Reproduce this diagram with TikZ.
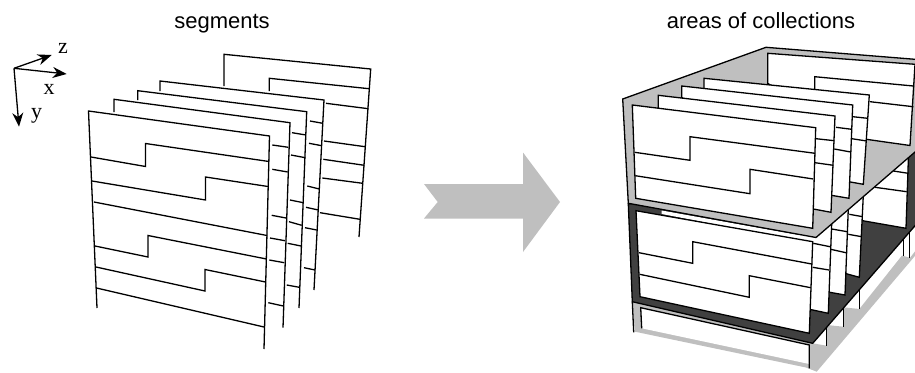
\documentclass[tikz,border=0pt]{standalone}
\usepackage{fontspec}
\setmainfont{Liberation Sans}
\newfontfamily\axisfont{Liberation Serif}
\usetikzlibrary{arrows.meta}
\definecolor{lightfill}{HTML}{BFBFBF}
\definecolor{darkfill}{HTML}{404040}
\tikzset{
	seg/.style={draw=black, line width=1.3pt, line join=miter},
	panel/.style={seg, fill=white},
	axis/.style={line width=1.3pt, -{Stealth[length=14pt,width=11pt]}},
	axislabel/.style={font=\axisfont\fontsize{22}{22}\selectfont, inner sep=0pt, anchor=base},
	title/.style={font=\fontsize{22}{22}\selectfont, inner sep=0pt, anchor=base},
}
\begin{document}
\begin{tikzpicture}[x=1pt, y=-1pt]
	\useasboundingbox (0,0) rectangle (915,372);

	\node[title] (tleft) at (222,28) {segments};
	\node[title] (tright) at (761,28) {areas of collections};

	\coordinate (orig) at (14,68.3);
	\coordinate (zend) at (51.7,55);
	\coordinate (xend) at (66.7,74);
	\coordinate (yend) at (19,126.7);
	\draw[axis] (orig) -- (zend);
	\draw[axis] (orig) -- (xend);
	\draw[axis] (orig) -- (yend);
	\node[axislabel] (zlab) at (63,53.3) {z};
	\node[axislabel] (xlab) at (49,94) {x};
	\node[axislabel] (ylab) at (36.5,118.5) {y};

	% left stack
	\draw[seg] (224,86) -- (224,54.3) -- (370.7,69) -- (359,237);
	\draw[seg] (269.3,91) -- (269.3,78.3) -- (369,88.7);
	\foreach \a/\b/\c/\d in {326/103.3/368.3/108.7, 324/141/365/146.7, 323.3/159.3/364.3/165.3, 322.3/178/362.7/183.3, 320/212.7/360/219.3}
		\draw[seg] (\a,\b) -- (\c,\d);
	\draw[seg] (160,91) -- (160,81) -- (324,100) -- (314,290);
	\foreach \a/\b/\c/\d in {310/121/322.7/123.3, 309/143.3/321.7/145.7, 307.3/186/319.3/189, 306/207.3/318.3/210, 305/227.7/316.7/230, 304/267.7/315/270}
		\draw[seg] (\a,\b) -- (\c,\d);
	\draw[seg] (137.7,100) -- (137.7,90.7) -- (306.7,111.7) -- (299,308);
	\foreach \a/\b/\c/\d in {292/132.7/306/135, 291/155/305.3/157.7, 290/200/303.3/202.7, 289/221.7/301.7/225.3, 287.7/243.3/301/246, 286.7/285/299.3/287.3}
		\draw[seg] (\a,\b) -- (\c,\d);
	\draw[seg] (114,112) -- (114,99.3) -- (290,122.7) -- (283,327.7);
	\foreach \a/\b/\c/\d in {272.3/145/288.3/147.3, 272.3/169.3/287.7/172, 271.7/215.3/286/218, 270/238/285/240.7, 269.3/260/284.3/262.7, 268.3/302.7/283.3/306}
		\draw[seg] (\a,\b) -- (\c,\d);
	\draw[seg] (97,308) -- (88.5,111) -- (269.5,136) -- (264,349);
	\draw[seg] (91,157) -- (145.5,166.5) -- (145.5,143.5) -- (269,161.5);
	\draw[seg] (92,181) -- (205.5,200) -- (205.5,177) -- (268,186.5);
	\draw[seg] (94,202) -- (267,235.5);
	\draw[seg] (95,246) -- (148,257) -- (148,235.5) -- (266.5,259);
	\draw[seg] (96,267) -- (205,291) -- (205,269.5) -- (265.5,282);
	\draw[seg] (96.5,288) -- (264,327);

	% big arrow
	\fill[lightfill] (424,184) -- (523,184) -- (523,152.5) -- (560,202) -- (523,252) -- (523,218.5) -- (424,218.5) -- (437.7,202) -- cycle;

	% base of the right stack
	\fill[lightfill] (632.3,301.7) -- (812.7,343.3) -- (826.7,345.7) -- (826.7,325) -- (843.3,326.7) -- (843.3,307.3) -- (859.3,309) -- (902,255.5) -- (910,257.8) -- (920,245) -- (920,250) -- (816.7,371.7) -- (806,367.5) -- (635,331.7) -- cycle;
	\fill[white] (641.7,328.3) -- (640.7,307.7) -- (809.3,345) -- (809.3,364) -- cycle;
	\draw[seg] (641.7,328.3) -- (640.7,307.7) -- (809.3,345) -- (809.3,368.3);
	\draw[seg] (632.3,301.7) -- (633.7,332.3);
	\foreach \a/\b/\c in {826.7/320/345.7, 843.3/300/326.7, 859.3/285/309, 903.3/235/256, 909.3/230/258.3}
		\draw[seg] (\a,\b) -- (\a,\c);

	% lower floor
	\draw[seg, fill=darkfill] (628.3,204) -- (920,150) -- (920,220) -- (812.7,343.3) -- (632.3,301.7) -- cycle;

	% lower panels
	\draw[panel] (850,180) -- (908.5,155) -- (906,228.3) -- (850,218.5) -- cycle;
	\foreach \a/\b/\c/\d in {875/187.3/906.7/191.7, 893.3/171/908.3/173.3}
		\draw[seg] (\a,\b) -- (\c,\d);
	\draw[panel] (800,225) -- (863.8,185) -- (859.3,277.3) -- (800,261) -- cycle;
	\foreach \a/\b/\c/\d in {849.3/214.3/862.7/216.7, 848.3/234.3/861.7/236.7}
		\draw[seg] (\a,\b) -- (\c,\d);
	\draw[panel] (800,220) -- (849,190) -- (845,295) -- (800,287) -- cycle;
	\foreach \a/\b/\c/\d in {831.7/229/847.3/231.7, 830.7/249.3/846/252.7}
		\draw[seg] (\a,\b) -- (\c,\d);
	\draw[panel] (800,225) -- (832,215) -- (828.3,313.3) -- (800,307.3) -- cycle;
	\foreach \a/\b/\c/\d in {813.3/243.3/830/246.7, 812.7/267.3/829/270}
		\draw[seg] (\a,\b) -- (\c,\d);
	\fill[white] (661.7,210.5) -- (816,238) -- (812.7,243) -- (661.7,214) -- cycle;
	\draw[panel] (636,210.7) -- (812.7,241.7) -- (809.3,333.3) -- (640,296.7) -- cycle;
	\draw[seg] (639,252.7) -- (692.7,263.3) -- (692.7,241.7) -- (811.7,264);
	\draw[seg] (639.7,274.3) -- (749.3,297.3) -- (749.3,275.7) -- (810.7,287.7);

	% upper floor
	\draw[seg, fill=lightfill] (628.3,203.3) -- (622.7,99) -- (766,47.3) -- (920,59.7) -- (920,147.7) -- (816,237.5) -- cycle;

	% upper panels
	\draw[panel] (767.7,83.3) -- (767.7,53.3) -- (915,64.3) -- (910,145.5) -- (850,137) -- cycle;
	\draw[seg] (814.7,89.3) -- (814.7,76.7) -- (913.3,86);
	\draw[seg] (870,101.7) -- (913.3,106.7);
	\draw[panel] (704,88.3) -- (704,78.3) -- (869.3,95) -- (863.3,184.3) -- (800,173) -- cycle;
	\foreach \a/\b/\c/\d in {852.7/116.7/867.7/118.3, 851.7/138.7/866.7/141}
		\draw[seg] (\a,\b) -- (\c,\d);
	\draw[panel] (681.7,97.3) -- (681.7,86) -- (852.7,105) -- (849,198.3) -- (800,190) -- cycle;
	\foreach \a/\b/\c/\d in {836/127.3/851.7/129.3, 834.3/149/850.7/152}
		\draw[seg] (\a,\b) -- (\c,\d);
	\draw[panel] (658.3,108.3) -- (658.3,95.3) -- (835,116) -- (831,212.3) -- (800,206.5) -- cycle;
	\foreach \a/\b/\c/\d in {816/138.7/834.3/140.7, 815/162.7/833.3/165.3}
		\draw[seg] (\a,\b) -- (\c,\d);
	\draw[panel] (632.3,105) -- (815.7,127.7) -- (812.7,228.3) -- (635.7,198.3) -- cycle;
	\draw[seg] (634.7,152.3) -- (690,160.3) -- (690,136.7) -- (815,153.3);
	\draw[seg] (635.3,175.7) -- (750,193.7) -- (750,169.3) -- (813.3,179);
\end{tikzpicture}
\end{document}
